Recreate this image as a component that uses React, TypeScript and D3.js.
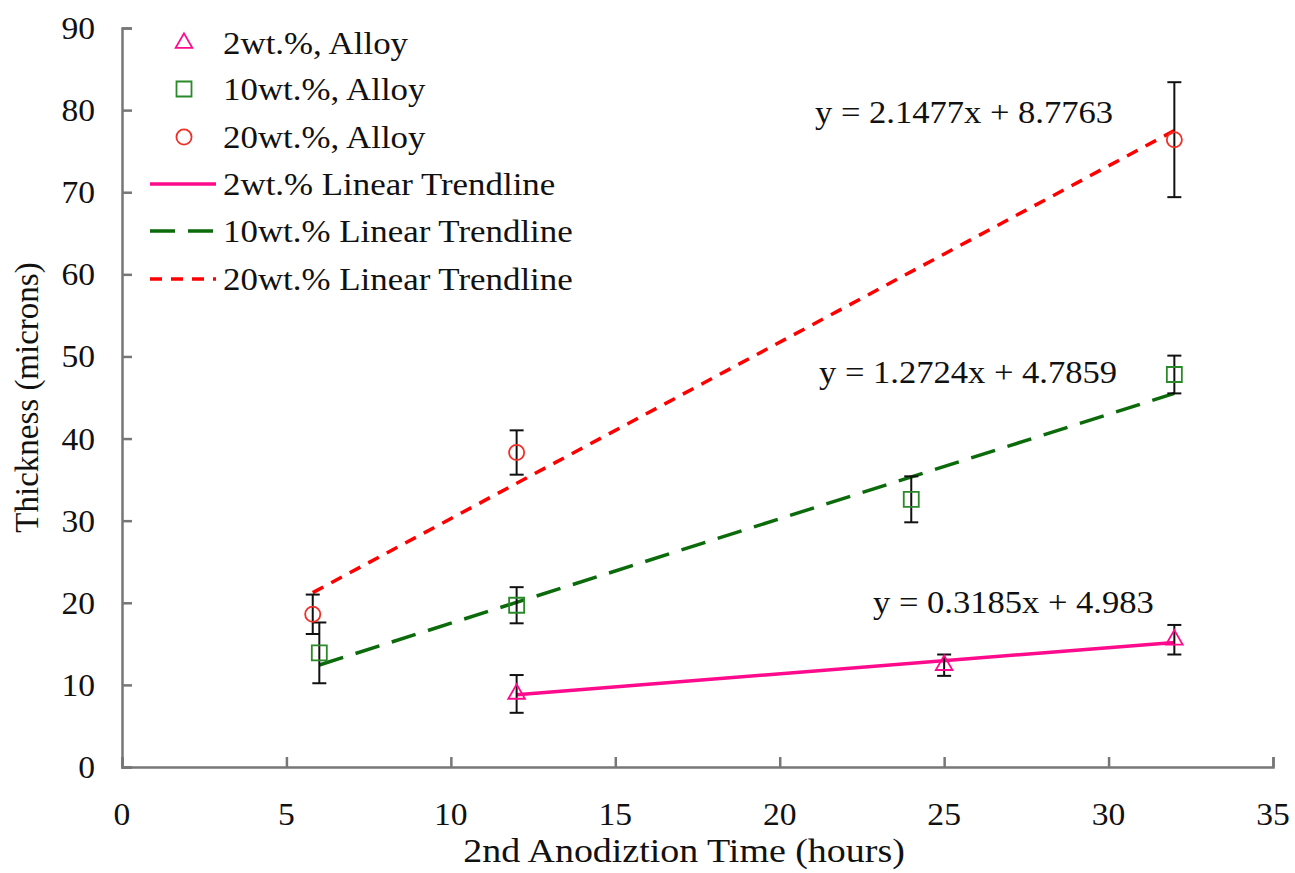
import React, { useEffect, useRef } from 'react';
import * as d3 from 'd3';

// anodization time (hours), thickness (microns) and error (+/-) per alloy
const time2 = [12, 25, 32];
const thick2 = [8.9, 12.4, 15.5];
const err2 = [2.3, 1.3, 1.8];

const time10 = [6, 12, 24, 32];
const thick10 = [13.9, 19.7, 32.6, 47.8];
const err10 = [3.7, 2.2, 2.8, 2.3];

const time20 = [5.8, 12, 32];
const thick20 = [18.6, 38.3, 76.4];
const err20 = [2.4, 2.7, 7.0];

// linear trendlines as printed on the chart
const trendSlope = [0.3185, 1.2724, 2.1477];
const trendIntercept = [4.983, 4.7859, 8.7763];
const trendStart = [12, 6, 5.8];
const trendEnd = [32, 32, 32];
const trendLabels = ['y = 0.3185x + 4.983', 'y = 1.2724x + 4.7859', 'y = 2.1477x + 8.7763'];

const xTicks = [0, 5, 10, 15, 20, 25, 30, 35];
const yTicks = [0, 10, 20, 30, 40, 50, 60, 70, 80, 90];

const alloyNames = ['2wt.%, Alloy', '10wt.%, Alloy', '20wt.%, Alloy'];
const trendNames = ['2wt.% Linear Trendline', '10wt.% Linear Trendline', '20wt.% Linear Trendline'];

const FONT = '"Liberation Serif", "Times New Roman", serif';
const colors = { pink: '#ff0a8c', green: '#2a8a2a', darkGreen: '#0b6b0b', red: '#f03028', redLine: '#ff0000' };

export default function App() {
  const ref = useRef<SVGSVGElement>(null);

  useEffect(() => {
    const svg = d3.select(ref.current);
    svg.selectAll('*').remove();

    const x = d3.scaleLinear().domain([0, 35]).range([122, 1273]);
    const y = d3.scaleLinear().domain([0, 90]).range([767, 28]);

    // the source text is a little wider than plain Times, hence the x stretch
    const label = (g: any, px: number, py: number, str: string, size: number, anchor = 'start', sx = 1) =>
      g.append('text')
        .attr('transform', `translate(${px},${py}) scale(${sx},1)`)
        .attr('text-anchor', anchor)
        .attr('font-family', FONT)
        .attr('font-size', size)
        .attr('fill', '#111')
        .text(str);

    // axes, ticks point inwards
    const xAxis = svg.append('g')
      .attr('transform', 'translate(0,767)')
      .call(d3.axisBottom(x).tickValues(xTicks).tickSizeInner(-10).tickSizeOuter(-10).tickFormat(() => ''));
    const yAxis = svg.append('g')
      .attr('transform', 'translate(122,0)')
      .call(d3.axisLeft(y).tickValues(yTicks).tickSizeInner(-10).tickSizeOuter(-10).tickFormat(() => ''));
    [xAxis, yAxis].forEach(a => {
      a.selectAll('path, line').attr('stroke', '#777').attr('stroke-width', 2.5);
    });

    xTicks.forEach(t => label(svg, x(t), 825, String(t), 32, 'middle', 1.05));
    yTicks.forEach(t => label(svg, 95, y(t) + 11, String(t), 32, 'end', 1.05));

    label(svg, 684, 862, '2nd Anodiztion Time (hours)', 33, 'middle', 1.15);
    svg.append('text')
      .attr('transform', `translate(38,${(y(0) + y(90)) / 2}) rotate(-90)`)
      .attr('text-anchor', 'middle')
      .attr('font-family', FONT)
      .attr('font-size', 33)
      .attr('fill', '#111')
      .text('Thickness (microns)');

    // trendlines
    const lineStyles = [
      { color: colors.pink, dash: null },
      { color: colors.darkGreen, dash: '25,13' },
      { color: colors.redLine, dash: '12,9' },
    ];
    const line = d3.line<number>().x(d => x(d[0])).y(d => y(d[1]));
    trendSlope.forEach((m, i) => {
      const pts: any = [trendStart[i], trendEnd[i]].map(t => [t, m * t + trendIntercept[i]]);
      svg.append('path')
        .attr('d', line(pts))
        .attr('fill', 'none')
        .attr('stroke', lineStyles[i].color)
        .attr('stroke-width', 3.5)
        .attr('stroke-dasharray', lineStyles[i].dash);
    });

    // error bars and markers
    const series = [
      { t: time2, v: thick2, e: err2, sym: d3.symbolTriangle, size: 120, color: colors.pink },
      { t: time10, v: thick10, e: err10, sym: d3.symbolSquare, size: 225, color: colors.green },
      { t: time20, v: thick20, e: err20, sym: d3.symbolCircle, size: 180, color: colors.red },
    ];
    series.forEach(s => {
      s.t.forEach((t, i) => {
        const g = svg.append('g').attr('stroke', '#111').attr('stroke-width', 2);
        const cx = x(t);
        g.append('line').attr('x1', cx).attr('x2', cx).attr('y1', y(s.v[i] + s.e[i])).attr('y2', y(s.v[i] - s.e[i]));
        [s.v[i] + s.e[i], s.v[i] - s.e[i]].forEach(v =>
          g.append('line').attr('x1', cx - 7).attr('x2', cx + 7).attr('y1', y(v)).attr('y2', y(v)));
        svg.append('path')
          .attr('d', d3.symbol(s.sym, s.size)())
          .attr('transform', `translate(${cx},${y(s.v[i])})`)
          .attr('fill', 'none')
          .attr('stroke', s.color)
          .attr('stroke-width', 1.8);
      });
    });

    // equations
    label(svg, 873, 613, trendLabels[0], 32, 'start', 1.08);
    label(svg, 819, 383, trendLabels[1], 32, 'start', 1.08);
    label(svg, 815, 123, trendLabels[2], 32, 'start', 1.08);

    // legend
    const rowY = [43, 89, 137, 184, 231, 279];
    series.forEach((s, i) => {
      svg.append('path')
        .attr('d', d3.symbol(s.sym, s.size)())
        .attr('transform', `translate(184,${rowY[i]})`)
        .attr('fill', 'none')
        .attr('stroke', s.color)
        .attr('stroke-width', 1.8);
      label(svg, 223, rowY[i] + 11, alloyNames[i], 32, 'start', 1.09);
    });
    lineStyles.forEach((ls, i) => {
      const ry = rowY[i + 3];
      svg.append('line')
        .attr('x1', 150).attr('x2', 216).attr('y1', ry).attr('y2', ry)
        .attr('stroke', ls.color)
        .attr('stroke-width', 3.5)
        .attr('stroke-dasharray', ls.dash);
      label(svg, 223, ry + 11, trendNames[i], 32, 'start', 1.09);
    });
  }, []);

  return (
    <svg ref={ref} width={1295} height={873}
      style={{ position: 'absolute', left: 0, top: 0, background: '#fff' }} />
  );
}
